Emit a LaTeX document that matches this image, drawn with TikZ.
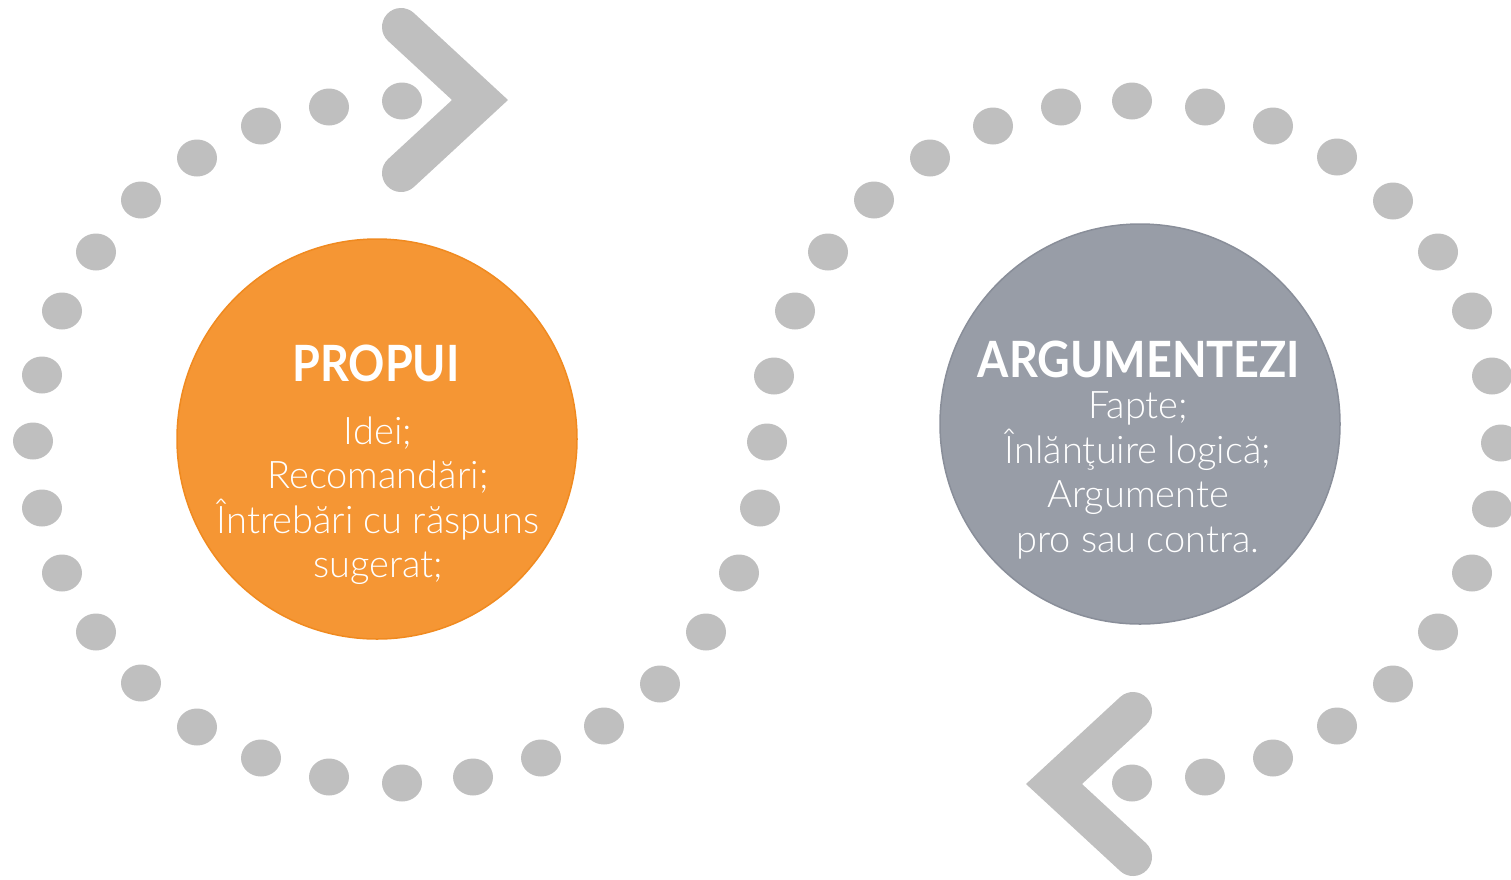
\documentclass[tikz,border=0pt]{standalone}
\usepackage{fontspec}
\setmainfont{Lato Light}[BoldFont={Lato Bold}]
\newfontfamily\headfont{Lato Bold}[FakeStretch=0.9]
\usetikzlibrary{positioning}
\definecolor{dotgrey}{RGB}{191,191,191}
\definecolor{propfill}{RGB}{245,150,52}
\definecolor{propedge}{RGB}{240,138,32}
\definecolor{argfill}{RGB}{152,157,167}
\definecolor{argedge}{RGB}{137,142,153}
\tikzset{
  ringdot/.style={fill=dotgrey},
  chevron/.style={draw=dotgrey, line width=38pt, line cap=round, line join=miter},
  bigdisc/.style={circle, minimum size=400pt, inner sep=0pt, line width=1.5pt},
  headtxt/.style={text=white, font=\fontsize{50}{50}\selectfont\headfont, inner sep=0pt, anchor=base},
  bodytxt/.style={text=white, font=\fontsize{38}{44.5}\selectfont, align=center, inner sep=0pt, anchor=base},
}
% dots of one half of the loop, from the chevron down to the middle
\newcommand\halfloop{402/101, 329/107, 261/126, 197/158, 141/200, 96/252, 62/311, 42/375,
  33/441, 42/508, 62/573, 96/632, 141/683, 197/727, 261/758, 329/777, 402/783,
  473/777, 541/758, 604/726, 660/684, 706/632, 739/573, 760/508}

\begin{document}
\begin{tikzpicture}[x=1pt,y=1pt,yscale=-1,xscale=1]
\useasboundingbox (0,0) rectangle (1511,879);

%Dotted loop and chevron, second half turned round the middle
\foreach \ang in {0,180}{
  \begin{scope}[rotate around={\ang:(767,442)}]
    \foreach \px/\py in \halfloop
      \fill[ringdot] (\px,\py) ellipse [x radius=20, y radius=18.5];
    %Chevron
    \draw[chevron] (401,27) -- (480,100) -- (401,173);
  \end{scope}
}
%Middle dot
\fill[ringdot] (767,442) ellipse [x radius=20, y radius=18.5];

%Shape: Circle
\node[bigdisc, fill=propfill, draw=propedge] (propui) at (377,439) {};
%Shape: Circle
\node[bigdisc, fill=argfill, draw=argedge] (argumentezi) at (1140,424) {};

% Text Node
\node[headtxt] (propuiHead) at (376,381) {PROPUI};
% Text Node (anchored on the last line)
\node[bodytxt] (propuiBody) at (378,577.5) {Idei;\\Recomandări;\\Întrebări cu răspuns\\sugerat;};
% Text Node
\node[headtxt] (argHead) at (1139,377) {ARGUMENTEZI};
% Text Node (anchored on the last line)
\node[bodytxt] (argBody) at (1138,552) {Fapte;\\Înlănţuire logică;\\Argumente\\pro sau contra.};
\end{tikzpicture}
\end{document}
